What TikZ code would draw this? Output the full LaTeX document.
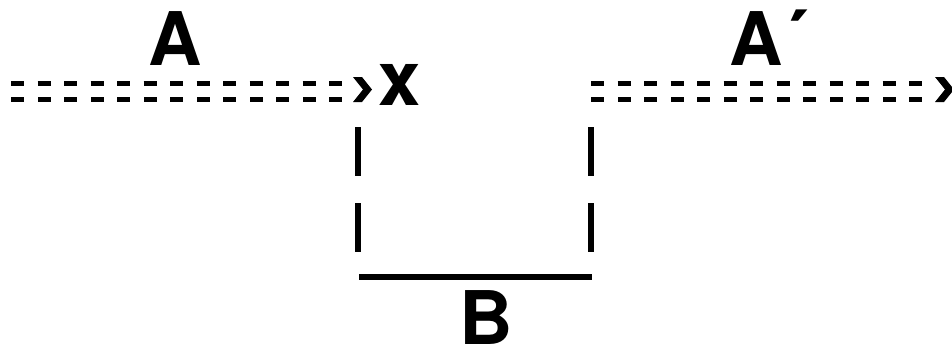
\documentclass[tikz,border=0pt]{standalone}
\usepackage{fontspec}
\setmainfont{TeX Gyre Heros}
\usepackage{tikz}
\usetikzlibrary{calc}
\tikzset{
  lbl/.style={inner sep=0pt,anchor=base,font=\fontsize{37}{40}\selectfont\bfseries},
  rail/.style={double,double distance=5.35pt,line width=2.65pt,dash pattern=on 6.5pt off 6.75pt},
  chev/.style={fill=black,draw=none},
  post/.style={line width=2.7pt,dash pattern=on 24.5pt off 13.5pt},
  floor/.style={line width=2.6pt},
}
\begin{document}
\begin{tikzpicture}[x=0.5pt,y=-0.5pt]
  \useasboundingbox (0,0) rectangle (952,350);
  % labels
  \node[lbl] (lA) at (175,65) {A};
  \node[lbl,anchor=base west] (lAp) at (729,65) {A´};
  \node[lbl,font=\fontsize{38}{40}\selectfont\bfseries] (nx) at (400,105) {x};
  \node[lbl] (lB) at (486,344) {B};
  % rails
  \coordinate (a0) at (11,91.3);
  \coordinate (a1) at (342,91.3);
  \coordinate (b0) at (591,91.3);
  \coordinate (b1) at (922,91.3);
  \draw[rail] (a0) -- (a1);
  \draw[rail] (b0) -- (b1);
  \fill[chev] ($(a1)+(11,-14.3)$) -- ++(9,0) -- ++(10,12.5) -- ++(-10,12.5) -- ++(-9,0) -- ++(10,-12.5) -- cycle;
  \fill[chev] ($(b1)+(13,-14.3)$) -- ++(9,0) -- ++(10,12.5) -- ++(-10,12.5) -- ++(-9,0) -- ++(10,-12.5) -- cycle;
  % gap
  \coordinate (p0) at (358,127);
  \coordinate (p1) at (358,252);
  \coordinate (q0) at (591,127);
  \coordinate (q1) at (591,252);
  \coordinate (f0) at (359,277);
  \coordinate (f1) at (592,277);
  \draw[post] (p0) -- (p1);
  \draw[post] (q0) -- (q1);
  \draw[floor] (f0) -- (f1);
\end{tikzpicture}
\end{document}
